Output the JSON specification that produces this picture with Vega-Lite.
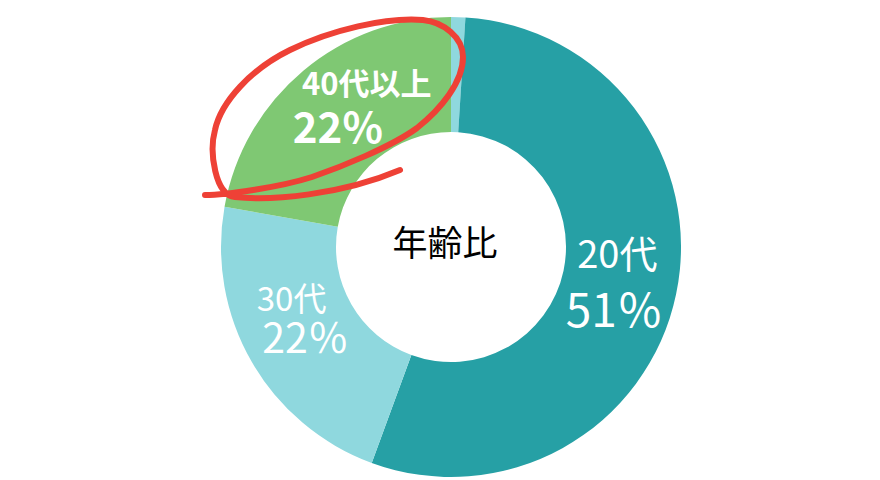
{
  "$schema": "https://vega.github.io/schema/vega-lite/v6.json",
  "width": 858,
  "height": 466,
  "autosize": "none",
  "padding": {"left": 22, "top": 14, "right": 0, "bottom": 0},
  "background": "white",
  "view": {"stroke": null},
  "config": {"text": {"font": "Noto Sans CJK JP"}},
  "data": {
    "values": [
      {"rank": 0, "group": "その他", "share": 1.0, "label": ""},
      {"rank": 1, "group": "20代", "share": 54.6, "label": "51％"},
      {"rank": 2, "group": "30代", "share": 22.2, "label": "22％"},
      {"rank": 3, "group": "40代以上", "share": 22.2, "label": "22%"}
    ]
  },
  "encoding": {
    "theta": {"field": "share", "type": "quantitative", "stack": true},
    "order": {"field": "rank", "type": "ordinal"},
    "detail": {"field": "group", "type": "nominal"}
  },
  "layer": [
    {
      "mark": {"type": "arc", "innerRadius": 115, "outerRadius": 230},
      "encoding": {
        "color": {
          "field": "group",
          "type": "nominal",
          "scale": {
            "domain": ["その他", "20代", "30代", "40代以上"],
            "range": ["#8FD8DE", "#26A0A5", "#8FD8DE", "#7FC873"]
          },
          "legend": null
        }
      }
    },
    {
      "mark": {"type": "text", "radius": 170, "dx": 0, "dy": -25, "fontSize": 38, "fontWeight": "normal", "color": "white"},
      "encoding": {"text": {"condition": {"test": "datum.group === '20代'", "field": "group"}, "value": ""}}
    },
    {
      "mark": {"type": "text", "radius": 170, "dx": -3, "dy": 31, "fontSize": 46, "fontWeight": "normal", "color": "white"},
      "encoding": {"text": {"condition": {"test": "datum.group === '20代'", "field": "label"}, "value": ""}}
    },
    {
      "mark": {"type": "text", "radius": 170, "dx": -12, "dy": -31, "fontSize": 33, "fontWeight": "normal", "color": "white"},
      "encoding": {"text": {"condition": {"test": "datum.group === '30代'", "field": "group"}, "value": ""}}
    },
    {
      "mark": {"type": "text", "radius": 170, "dx": 2, "dy": 9, "fontSize": 41, "fontWeight": "normal", "color": "white"},
      "encoding": {"text": {"condition": {"test": "datum.group === '30代'", "field": "label"}, "value": ""}}
    },
    {
      "mark": {"type": "text", "radius": 170, "dx": 25, "dy": -31, "fontSize": 31, "fontWeight": "bold", "color": "white"},
      "encoding": {"text": {"condition": {"test": "datum.group === '40代以上'", "field": "group"}, "value": ""}}
    },
    {
      "mark": {"type": "text", "radius": 170, "dx": -4, "dy": 13, "fontSize": 42, "fontWeight": "bold", "color": "white"},
      "encoding": {"text": {"condition": {"test": "datum.group === '40代以上'", "field": "label"}, "value": ""}}
    },
    {
      "data": {"values": [{"caption": "年齢比"}]},
      "mark": {"type": "text", "dx": -6, "dy": -2, "fontSize": 35, "color": "black"},
      "encoding": {"theta": null, "order": null, "detail": null, "text": {"field": "caption"}}
    },
    {
      "transform": [{"filter": "datum.group === '40代以上'"}],
      "mark": {
        "type": "point",
        "shape": "M -51 -77 C -110 -52 -180 -46 -216 -50 C -236 -52 -242 -95 -236 -117 C -230 -145 -200 -178 -161 -197 C -120 -217 -65 -230 -28 -227 C -8 -225 12 -210 12 -190 C 12 -165 -10 -138 -34 -119 C -60 -100 -110 -80 -139 -70 C -170 -60 -225 -52 -246 -52",
        "size": 4,
        "filled": false,
        "opacity": 1,
        "stroke": "#EE4136",
        "strokeWidth": 6,
        "strokeCap": "round",
        "strokeJoin": "round"
      },
      "encoding": {"theta": null, "order": null, "detail": null}
    }
  ]
}
